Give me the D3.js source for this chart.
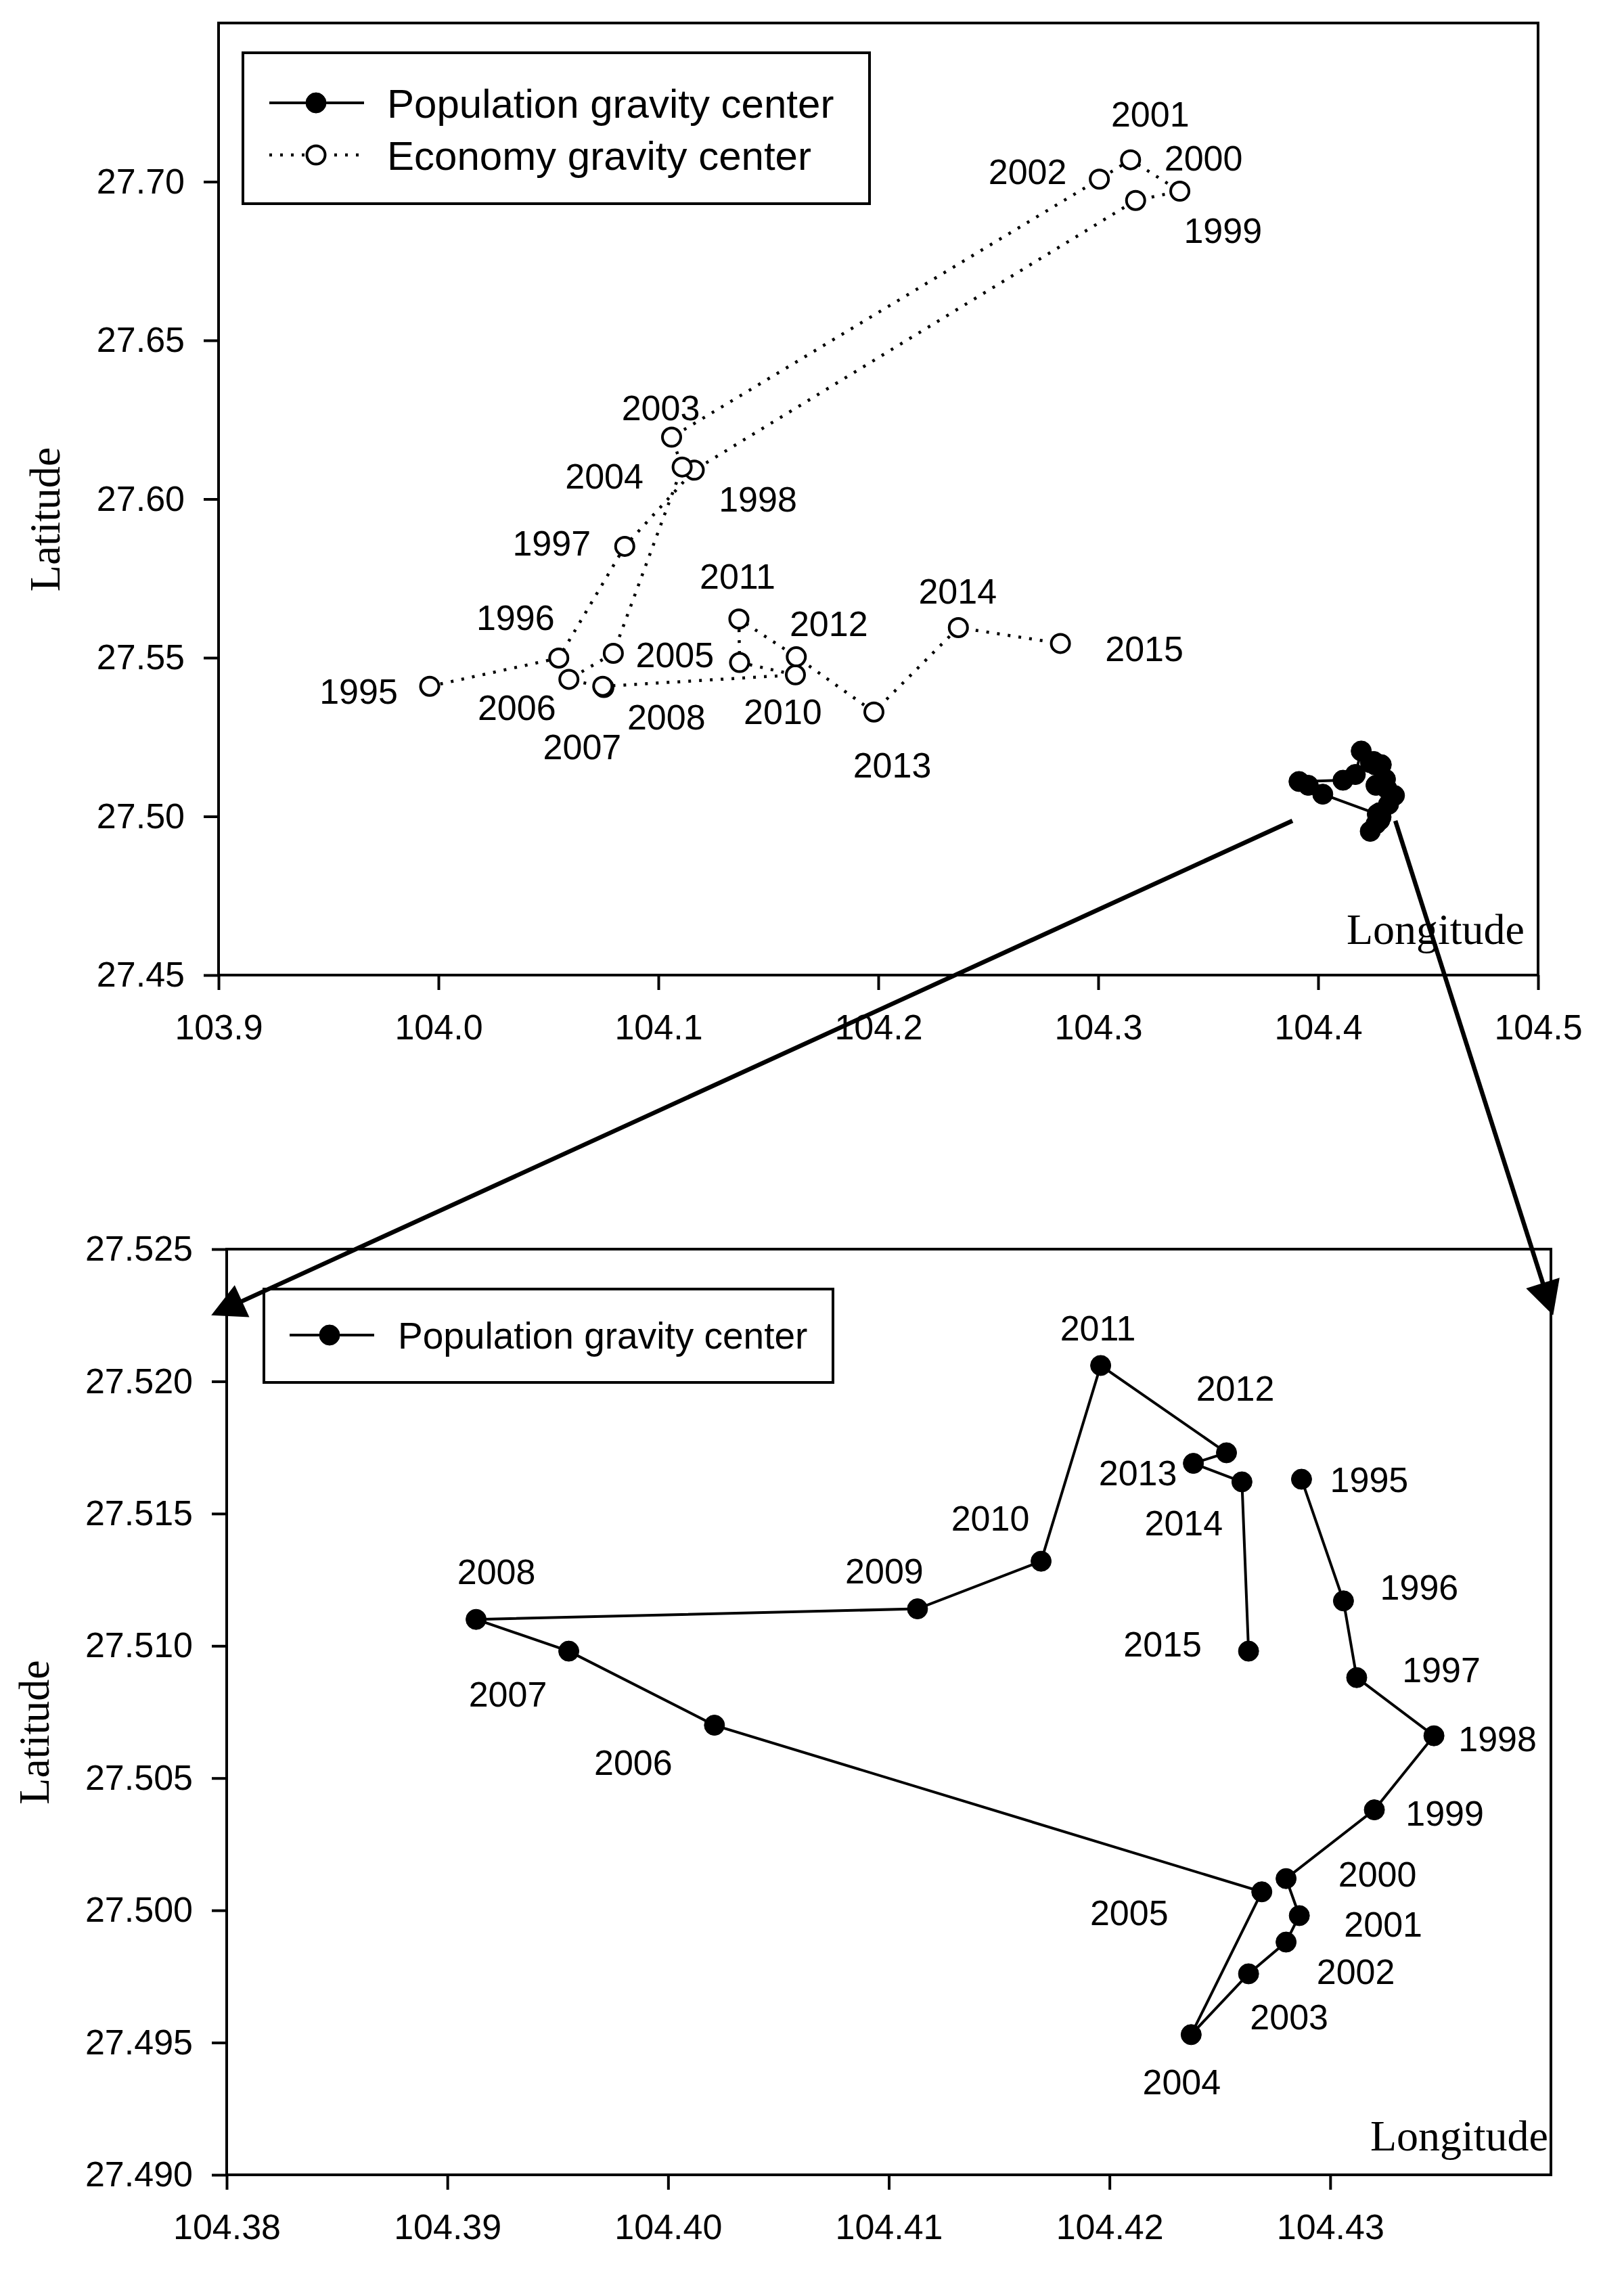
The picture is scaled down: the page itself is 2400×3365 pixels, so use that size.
<!DOCTYPE html>
<html>
<head>
<meta charset="utf-8">
<script src="https://cdn.jsdelivr.net/npm/d3@7"></script>
<style>
    body { margin: 0; background: #fff; }
    svg { display: block; }
</style>
</head>
<body>
<div id="chart"></div>
<script>
// years of the two gravity center series
var years = [1995, 1996, 1997, 1998, 1999, 2000, 2001, 2002, 2003, 2004, 2005,
             2006, 2007, 2008, 2009, 2010, 2011, 2012, 2013, 2014, 2015];

// population gravity center
var popLon = [104.4287, 104.4306, 104.4312, 104.4347, 104.4320, 104.4280, 104.4286,
              104.4280, 104.4263, 104.4237, 104.4269, 104.4021, 104.3955, 104.3913,
              104.4113, 104.4169, 104.4196, 104.4253, 104.4238, 104.4260, 104.4263];
var popLat = [27.5163, 27.5117, 27.5088, 27.5066, 27.5038, 27.5012, 27.4998,
              27.4988, 27.4976, 27.4953, 27.5007, 27.5070, 27.5098, 27.5110,
              27.5114, 27.5132, 27.5206, 27.5173, 27.5169, 27.5162, 27.5098];

// economy gravity center
var ecoLon = [103.9960, 104.0547, 104.0847, 104.1163, 104.3170, 104.3371, 104.3147,
              104.3005, 104.1060, 104.1108, 104.0795, 104.0593, 104.0752, 104.0747,
              104.1623, 104.1369, 104.1366, 104.1627, 104.1980, 104.2364, 104.2828];
var ecoLat = [27.5410, 27.5499, 27.5851, 27.6091, 27.6941, 27.6970, 27.7069,
              27.7008, 27.6195, 27.6101, 27.5514, 27.5432, 27.5406, 27.5410,
              27.5446, 27.5485, 27.5622, 27.5503, 27.5329, 27.5595, 27.5545];

// tick values
var topXTicks = [103.9, 104.0, 104.1, 104.2, 104.3, 104.4, 104.5];
var topYTicks = [27.45, 27.50, 27.55, 27.60, 27.65, 27.70];
var botXTicks = [104.38, 104.39, 104.40, 104.41, 104.42, 104.43];
var botYTicks = [27.490, 27.495, 27.500, 27.505, 27.510, 27.515, 27.520, 27.525];

// zoom arrows: from the cluster in the upper chart to the corners of the lower one
var arrowFrom = [[104.3883, 27.4986], [104.4351, 27.4986]];
var arrowTo = [[104.3793, 27.5225], [104.4401, 27.5225]];

// year label offsets (px) from each point, null = no label
var ecoLabelOff = [[-105, 7], [-64, -60], [-108, -5], [94, 42], [129, 44], [35, -49], [29, -68],
                   [-106, -11], [-16, -44], [-115, 13], [91, 2], [-77, 41], [-32, 87], [94, 45],
                   null, [64, 72], [-2, -64], [48, -49], [27, 78], [-1, -54], [124, 7]];
var popLabelOff = [[100, 0], [112, -21], [125, -12], [94, 4], [104, 5], [135, -7], [124, 12],
                   [103, 43], [60, 63], [-14, 69], [-196, 30], [-120, 55], [-90, 63], [30, -71],
                   [-49, -56], [-75, -64], [-4, -56], [13, -96], [-82, 14], [-86, 60], [-127, -11]];

var sans = "'Liberation Sans', Arial, sans-serif";
var serif = "'Liberation Serif', 'Times New Roman', serif";

var svgW = 2400;
var svgH = 3365;

var svg = d3.select("#chart")
    .append("svg")
    .attr("width", svgW)
    .attr("height", svgH);

svg.append("rect")
    .attr("width", svgW)
    .attr("height", svgH)
    .attr("fill", "#fff");

var popData = years.map(function(y, i) { return { year: y, lon: popLon[i], lat: popLat[i], off: popLabelOff[i] }; });
var ecoData = years.map(function(y, i) { return { year: y, lon: ecoLon[i], lat: ecoLat[i], off: ecoLabelOff[i] }; });

var topBox = { left: 323, right: 2273, top: 34, bottom: 1441 };
var botBox = { left: 335, right: 2292, top: 1846, bottom: 3214 };

var xTop = d3.scaleLinear().domain([103.9, 104.5]).range([topBox.left, topBox.right]);
var yTop = d3.scaleLinear().domain([27.45, 27.75]).range([topBox.bottom, topBox.top]);
var xBot = d3.scaleLinear().domain([104.38, 104.44]).range([botBox.left, botBox.right]);
var yBot = d3.scaleLinear().domain([27.49, 27.525]).range([botBox.bottom, botBox.top]);

function drawFrame(box, x, y, xTicks, yTicks, xFmt, yFmt, latX, lonDx, lonDy) {
    var g = svg.append("g");

    g.append("rect")
        .attr("x", box.left)
        .attr("y", box.top)
        .attr("width", box.right - box.left)
        .attr("height", box.bottom - box.top)
        .attr("fill", "none")
        .attr("stroke", "#000")
        .attr("stroke-width", 4);

    var xAxis = g.append("g")
        .attr("transform", `translate(0, ${box.bottom})`)
        .call(d3.axisBottom(x).tickValues(xTicks).tickFormat(d3.format(xFmt)).tickSize(22).tickPadding(36));

    var yAxis = g.append("g")
        .attr("transform", `translate(${box.left}, 0)`)
        .call(d3.axisLeft(y).tickValues(yTicks).tickFormat(d3.format(yFmt)).tickSize(22).tickPadding(28));

    [xAxis, yAxis].forEach(function(a) {
        a.select(".domain").remove();
        a.selectAll(".tick line").attr("stroke", "#000").attr("stroke-width", 4);
        a.selectAll(".tick text")
            .attr("fill", "#000")
            .style("font-family", sans)
            .style("font-size", "52px");
    });

    g.append("text")
        .attr("transform", `translate(${latX}, ${(box.top + box.bottom) / 2 + 30}) rotate(-90)`)
        .attr("text-anchor", "middle")
        .style("font-family", serif)
        .style("font-size", "64px")
        .text("Latitude");

    g.append("text")
        .attr("x", box.right - lonDx)
        .attr("y", box.bottom - lonDy)
        .attr("text-anchor", "end")
        .style("font-family", serif)
        .style("font-size", "64px")
        .text("Longitude");
}

function drawSeries(data, x, y, filled, dotted, withLabels) {
    var g = svg.append("g");
    var line = d3.line()
        .x(function(d) { return x(d.lon); })
        .y(function(d) { return y(d.lat); });

    g.append("path")
        .datum(data)
        .attr("d", line)
        .attr("fill", "none")
        .attr("stroke", "#000")
        .attr("stroke-width", dotted ? 4.5 : 4)
        .attr("stroke-dasharray", dotted ? "4 12" : null);

    g.selectAll("circle")
        .data(data)
        .enter()
        .append("circle")
        .attr("cx", function(d) { return x(d.lon); })
        .attr("cy", function(d) { return y(d.lat); })
        .attr("r", filled ? 15 : 13.5)
        .attr("fill", filled ? "#000" : "#fff")
        .attr("stroke", "#000")
        .attr("stroke-width", filled ? 1 : 4);

    if (withLabels) {
        g.selectAll(".yearText")
            .data(data.filter(function(d) { return d.off; }))
            .enter()
            .append("text")
            .attr("x", function(d) { return x(d.lon) + d.off[0]; })
            .attr("y", function(d) { return y(d.lat) + d.off[1]; })
            .attr("dy", "0.36em")
            .attr("text-anchor", "middle")
            .style("font-family", sans)
            .style("font-size", "52px")
            .text(function(d) { return d.year; });
    }
}

// legend box; sym = [line start, line end, marker, text start] offsets from the box left
function drawLegend(bx, by, bw, bh, sym, rows, fontSize) {
    var g = svg.append("g");
    g.append("rect")
        .attr("x", bx)
        .attr("y", by)
        .attr("width", bw)
        .attr("height", bh)
        .attr("fill", "#fff")
        .attr("stroke", "#000")
        .attr("stroke-width", 4);

    rows.forEach(function(r) {
        g.append("line")
            .attr("x1", bx + sym[0]).attr("x2", bx + sym[1])
            .attr("y1", r.y).attr("y2", r.y)
            .attr("stroke", "#000")
            .attr("stroke-width", r.dotted ? 4.5 : 4)
            .attr("stroke-dasharray", r.dotted ? "4 12" : null);
        g.append("circle")
            .attr("cx", bx + sym[2])
            .attr("cy", r.y)
            .attr("r", r.filled ? 15 : 13.5)
            .attr("fill", r.filled ? "#000" : "#fff")
            .attr("stroke", "#000")
            .attr("stroke-width", r.filled ? 1 : 4);
        g.append("text")
            .attr("x", bx + sym[3])
            .attr("y", r.y)
            .attr("dy", "0.36em")
            .style("font-family", sans)
            .style("font-size", fontSize + "px")
            .text(r.label);
    });
}

// upper chart
drawFrame(topBox, xTop, yTop, topXTicks, topYTicks, ".1f", ".2f", 88, 20, 46);
drawSeries(ecoData, xTop, yTop, false, true, true);
drawSeries(popData, xTop, yTop, true, false, false);
drawLegend(359, 78, 926, 223, [39, 179, 108, 213], [
    { y: 152, label: "Population gravity center", filled: true, dotted: false },
    { y: 229, label: "Economy gravity center", filled: false, dotted: true }
], 60);

// lower chart
drawFrame(botBox, xBot, yBot, botXTicks, botYTicks, ".2f", ".3f", 72, 4, 36);
drawSeries(popData, xBot, yBot, true, false, true);
drawLegend(390, 1905, 841, 138, [38, 163, 97, 198], [
    { y: 1973, label: "Population gravity center", filled: true, dotted: false }
], 55);

// arrows linking the cluster to the enlarged chart
arrowFrom.forEach(function(f, i) {
    var x0 = xTop(f[0]), y0 = yTop(f[1]);
    var x1 = xBot(arrowTo[i][0]), y1 = yBot(arrowTo[i][1]);
    var len = Math.hypot(x1 - x0, y1 - y0);
    var ux = (x1 - x0) / len, uy = (y1 - y0) / len;
    var headL = 50, headW = 26;
    var bx = x1 - ux * headL, by = y1 - uy * headL;

    svg.append("line")
        .attr("x1", x0).attr("y1", y0)
        .attr("x2", bx + ux * 4).attr("y2", by + uy * 4)
        .attr("stroke", "#000")
        .attr("stroke-width", 6.5);

    svg.append("path")
        .attr("d", `M${x1},${y1}L${bx - uy * headW},${by + ux * headW}L${bx + uy * headW},${by - ux * headW}Z`)
        .attr("fill", "#000");
});
</script>
</body>
</html>
